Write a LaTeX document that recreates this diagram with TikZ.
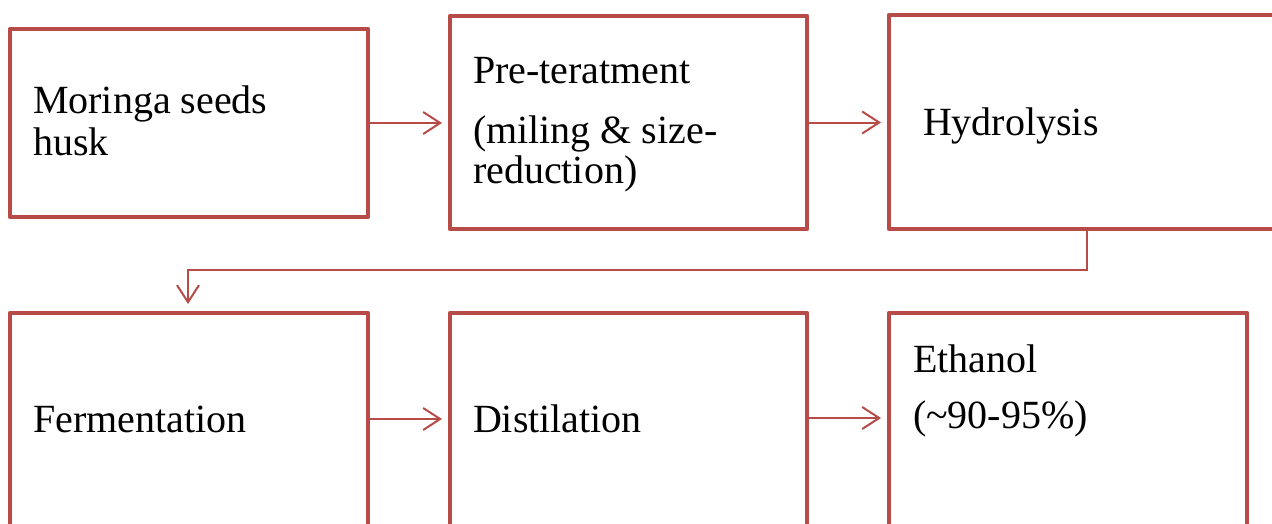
\documentclass[tikz,border=0pt]{standalone}
\usepackage{fontspec}
\setmainfont{Liberation Serif}
\usetikzlibrary{arrows.meta}
\definecolor{boxred}{RGB}{183,75,72}
\tikzset{
  box/.style={draw=boxred, line width=4.6pt, rectangle, inner sep=0pt, outer sep=0pt, line join=round},
  conn/.style={draw=boxred, line width=2pt, -{Straight Barb[length=17pt,width=22pt,line width=2pt]}},
  lbl/.style={anchor=base west, inner sep=0pt, outer sep=0pt, font=\fontsize{40}{42}\selectfont}
}
\begin{document}
\begin{tikzpicture}[x=1pt,y=-1pt]
\useasboundingbox (0,0) rectangle (1272,523);
\clip (0,0) rectangle (1272,523);
\fill[white] (0,0) rectangle (1272,523);
% boxes
\node[box, minimum width=358pt, minimum height=188pt] (b1) at (189,123) {};
\node[box, minimum width=357pt, minimum height=213pt] (b2) at (628.5,122.5) {};
\node[box, minimum width=411pt, minimum height=214pt] (b3) at (1094.5,122) {};
\node[box, minimum width=358pt, minimum height=247pt] (b4) at (189,436.5) {};
\node[box, minimum width=357pt, minimum height=247pt] (b5) at (628.5,436.5) {};
\node[box, minimum width=358pt, minimum height=247pt] (b6) at (1068,436.5) {};
% labels
\node[lbl] (t1a) at (33,113) {Moringa seeds};
\node[lbl] (t1b) at (33,155) {husk};
\node[lbl] (t2a) at (473,83) {Pre-teratment};
\node[lbl] (t2b) at (473,143) {(miling \& size-};
\node[lbl] (t2c) at (473,183) {reduction)};
\node[lbl] (t3) at (923,135) {Hydrolysis};
\node[lbl] (t4) at (33,432) {Fermentation};
\node[lbl] (t5) at (473,432) {Distilation};
\node[lbl] (t6a) at (913,372) {Ethanol};
\node[lbl] (t6b) at (913,428) {(\textasciitilde90-95\%)};
% connectors
\coordinate (h1) at (1087,270);
\coordinate (h2) at (188,270);
\draw[conn, shorten >=8pt] (b1.east) -- (b2.west |- b1.east);
\draw[conn, shorten >=8pt] (b2.east) -- (b3.west |- b2.east);
\draw[conn, shorten >=9pt] (b3.south -| h1) -- (h1) -- (h2) -- (b4.north -| h2);
\draw[conn, shorten >=8pt] (b4.east |- 0,419) -- (b5.west |- 0,419);
\draw[conn, shorten >=8pt] (b5.east |- 0,418) -- (b6.west |- 0,418);
\end{tikzpicture}
\end{document}
